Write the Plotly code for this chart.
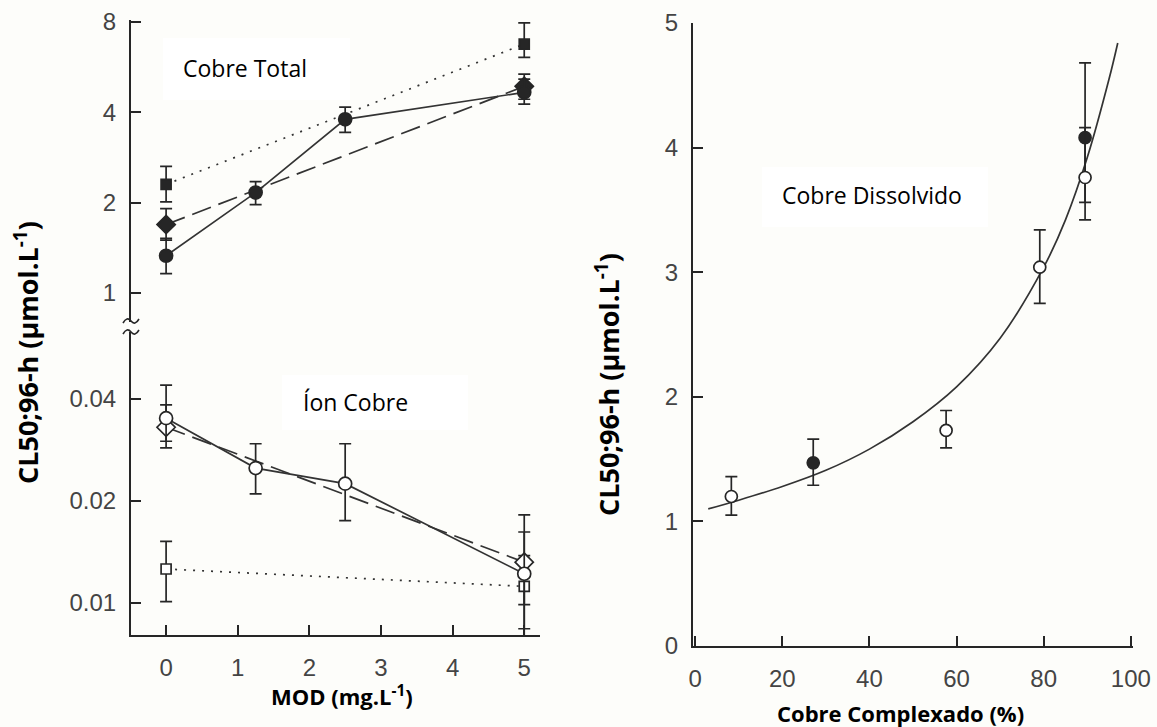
import math
import plotly.graph_objects as go

W, H = 1157, 727

# ---------------- data ----------------
# Left panel, upper part: Cobre Total (log scale)
mod_circ = [0, 1.25, 2.5, 5]
tot_circ = [1.33, 2.16, 3.79, 4.66]
tot_circ_hi = [1.52, 2.35, 4.16, 5.16]
tot_circ_lo = [1.16, 1.97, 3.43, 4.26]

mod_diam = [0, 5]
tot_diam = [1.69, 4.88]
tot_diam_hi = [1.91, 5.36]
tot_diam_lo = [1.50, 4.42]

mod_sq = [0, 5]
tot_sq = [2.30, 6.75]
tot_sq_hi = [2.64, 7.94]
tot_sq_lo = [2.01, 6.10]

# Left panel, lower part: Íon Cobre (log scale)
ion_circ = [0.0351, 0.0250, 0.0225, 0.0122]
ion_circ_hi = [0.0439, 0.0295, 0.0295, 0.0162]
ion_circ_lo = [0.0287, 0.0210, 0.0175, 0.0084]

ion_diam = [0.0330, 0.0132]
ion_diam_hi = [0.0384, 0.0182]
ion_diam_lo = [0.0300, 0.0099]

ion_sq = [0.0126, 0.0112]
ion_sq_hi = [0.0152, 0.0138]
ion_sq_lo = [0.0101, 0.0080]

# Right panel: Cobre Dissolvido
cplx_open = [8.3, 57.6, 79.1, 89.5]
diss_open = [1.20, 1.73, 3.04, 3.76]
diss_open_hi = [1.36, 1.89, 3.34, 4.16]
diss_open_lo = [1.05, 1.59, 2.75, 3.42]

cplx_fill = [27.1, 89.5]
diss_fill = [1.47, 4.08]
diss_fill_hi = [1.66, 4.68]
diss_fill_lo = [1.29, 3.56]

curve_x = [3, 10, 20, 30, 40, 50, 60, 70, 80, 85, 90, 95, 97]
curve_y = [1.10, 1.17, 1.28, 1.41, 1.58, 1.80, 2.08, 2.47, 3.04, 3.42, 3.92, 4.55, 4.84]

x_ticks_left = [0, 1, 2, 3, 4, 5]
y_ticks_upper = [1, 2, 4, 8]
y_ticks_lower = [0.01, 0.02, 0.04]
x_ticks_right = [0, 20, 40, 60, 80, 100]
y_ticks_right = [0, 1, 2, 3, 4, 5]

# ---------------- helpers ----------------
def fx(p):
    return p / W


def fy(p):
    return 1 - p / H


INK = "#262626"
LINE = "#333333"


def err(vals, hi, lo):
    return dict(type="data", symmetric=False,
                array=[h - v for v, h in zip(vals, hi)],
                arrayminus=[v - l for v, l in zip(vals, lo)],
                color=INK, thickness=1.7, width=6)


def trace(x, y, hi, lo, xa, ya, symbol, size, filled, dash):
    return go.Scatter(
        x=x, y=y, xaxis=xa, yaxis=ya, mode="lines+markers",
        line=dict(color=LINE, width=1.7 if dash != "dot" else 2.5, dash=dash),
        marker=dict(symbol=symbol, size=size,
                    color=INK if filled else "white",
                    line=dict(color=INK, width=1.7)),
        error_y=err(y, hi, lo), showlegend=False, hoverinfo="skip")


DOT = "2px,7px"
DASH = "20px,8px"

fig = go.Figure()

# upper left
fig.add_trace(trace(mod_sq, tot_sq, tot_sq_hi, tot_sq_lo, "x", "y2", "square", 10, True, DOT))
fig.add_trace(trace(mod_diam, tot_diam, tot_diam_hi, tot_diam_lo, "x", "y2", "diamond", 14, True, DASH))
fig.add_trace(trace(mod_circ, tot_circ, tot_circ_hi, tot_circ_lo, "x", "y2", "circle", 13, True, "solid"))
# lower left
fig.add_trace(trace(mod_sq, ion_sq, ion_sq_hi, ion_sq_lo, "x", "y", "square", 10, False, DOT))
fig.add_trace(trace(mod_diam, ion_diam, ion_diam_hi, ion_diam_lo, "x", "y", "diamond", 14, False, DASH))
fig.add_trace(trace(mod_circ, ion_circ, ion_circ_hi, ion_circ_lo, "x", "y", "circle", 13, False, "solid"))

# right panel
fig.add_trace(go.Scatter(x=curve_x, y=curve_y, xaxis="x3", yaxis="y3", mode="lines",
                         line=dict(color=LINE, width=1.7, shape="spline"),
                         showlegend=False, hoverinfo="skip"))
fig.add_trace(go.Scatter(x=cplx_fill, y=diss_fill, xaxis="x3", yaxis="y3", mode="markers",
                         marker=dict(symbol="circle", size=12, color=INK, line=dict(color=INK, width=1.7)),
                         error_y=err(diss_fill, diss_fill_hi, diss_fill_lo),
                         showlegend=False, hoverinfo="skip"))
fig.add_trace(go.Scatter(x=cplx_open, y=diss_open, xaxis="x3", yaxis="y3", mode="markers",
                         marker=dict(symbol="circle", size=12, color="white", line=dict(color=INK, width=1.7)),
                         error_y=err(diss_open, diss_open_hi, diss_open_lo),
                         showlegend=False, hoverinfo="skip"))

tickfont = dict(family="Liberation Sans, Arial, sans-serif", size=24, color="#444444")
axcommon = dict(showline=True, linecolor=INK, linewidth=2, ticks="inside", ticklen=10,
                tickwidth=2, tickcolor=INK, showgrid=False, zeroline=False,
                tickfont=tickfont, mirror=False, automargin=False)

fig.update_layout(
    width=W, height=H, autosize=False, margin=dict(l=0, r=0, t=0, b=0, pad=0, autoexpand=False),
    paper_bgcolor="#fdfdfa", plot_bgcolor="rgba(0,0,0,0)",
    showlegend=False,
    xaxis=dict(domain=[fx(131), fx(540)], range=[-0.49, 5.22], anchor="y",
               tickvals=x_ticks_left, ticklabelstandoff=10, **axcommon),
    yaxis=dict(domain=[fy(635), fy(332)], type="log",
               range=[math.log10(0.00805), math.log10(0.063)], anchor="x",
               tickvals=y_ticks_lower, ticktext=[str(v) for v in y_ticks_lower],
               ticklabelstandoff=8, **axcommon),
    yaxis2=dict(domain=[fy(322), fy(20)], type="log",
                range=[math.log10(0.80), math.log10(8.12)], anchor="x",
                tickvals=y_ticks_upper, ticktext=[str(v) for v in y_ticks_upper],
                ticklabelstandoff=8, **axcommon),
    xaxis3=dict(domain=[fx(693), fx(1133)], range=[-0.5, 100.5], anchor="y3",
                tickvals=x_ticks_right, ticklabelstandoff=10, **axcommon),
    yaxis3=dict(domain=[fy(646), fy(23)], range=[0, 5], anchor="x3",
                tickvals=y_ticks_right, ticklabelstandoff=8, **axcommon),
)

# axis break marks on left y axis
for yb in (321, 332):
    x0, x1 = 123, 139
    path = (f"M {fx(x0)},{fy(yb + 2)} Q {fx(127)},{fy(yb - 5)} {fx(131)},{fy(yb)} "
            f"T {fx(x1)},{fy(yb - 2)}")
    fig.add_shape(type="path", path=path, xref="paper", yref="paper",
                  line=dict(color=INK, width=1.6))

# white label boxes
for (bx0, by0, bx1, by1) in [(163, 38, 350, 100), (282, 375, 468, 430), (762, 167, 988, 227)]:
    fig.add_shape(type="rect", xref="paper", yref="paper", layer="above",
                  x0=fx(bx0), x1=fx(bx1), y0=fy(by1), y1=fy(by0),
                  fillcolor="white", line=dict(width=0))

lab = dict(family="Open Sans, Noto Sans, sans-serif", size=23, color="black")
labh = dict(family="Open Sans, Noto Sans, sans-serif", size=22, color="black")
labv = dict(family="Open Sans, Noto Sans, sans-serif", size=27, color="black")

annots = [
    dict(text="Cobre Total", x=fx(245), y=fy(68)),
    dict(text="Íon Cobre", x=fx(355), y=fy(402)),
    dict(text="Cobre Dissolvido", x=fx(872), y=fy(195)),
]
for a in annots:
    fig.add_annotation(text=a["text"], x=a["x"], y=a["y"], xref="paper", yref="paper",
                       showarrow=False, font=lab,
                       xanchor="center", yanchor="middle")

titles = [
    dict(text="<b>CL50;96-h (µmol.L<sup>-1</sup>)</b>", x=fx(26), y=fy(353), angle=-90, font=labv),
    dict(text="<b>CL50;96-h (µmol.L<sup>-1</sup>)</b>", x=fx(607), y=fy(385), angle=-90, font=labv),
    dict(text="<b>MOD (mg.L<sup>-1</sup>)</b>", x=fx(342), y=fy(695), angle=0, font=labh),
    dict(text="<b>Cobre Complexado (%)</b>", x=fx(900), y=fy(713), angle=0, font=labh),
]
for t in titles:
    fig.add_annotation(text=t["text"], x=t["x"], y=t["y"], xref="paper", yref="paper",
                       showarrow=False, font=t["font"], textangle=t["angle"],
                       xanchor="center", yanchor="middle")

fig.write_html("out.html", config={"responsive": False})
